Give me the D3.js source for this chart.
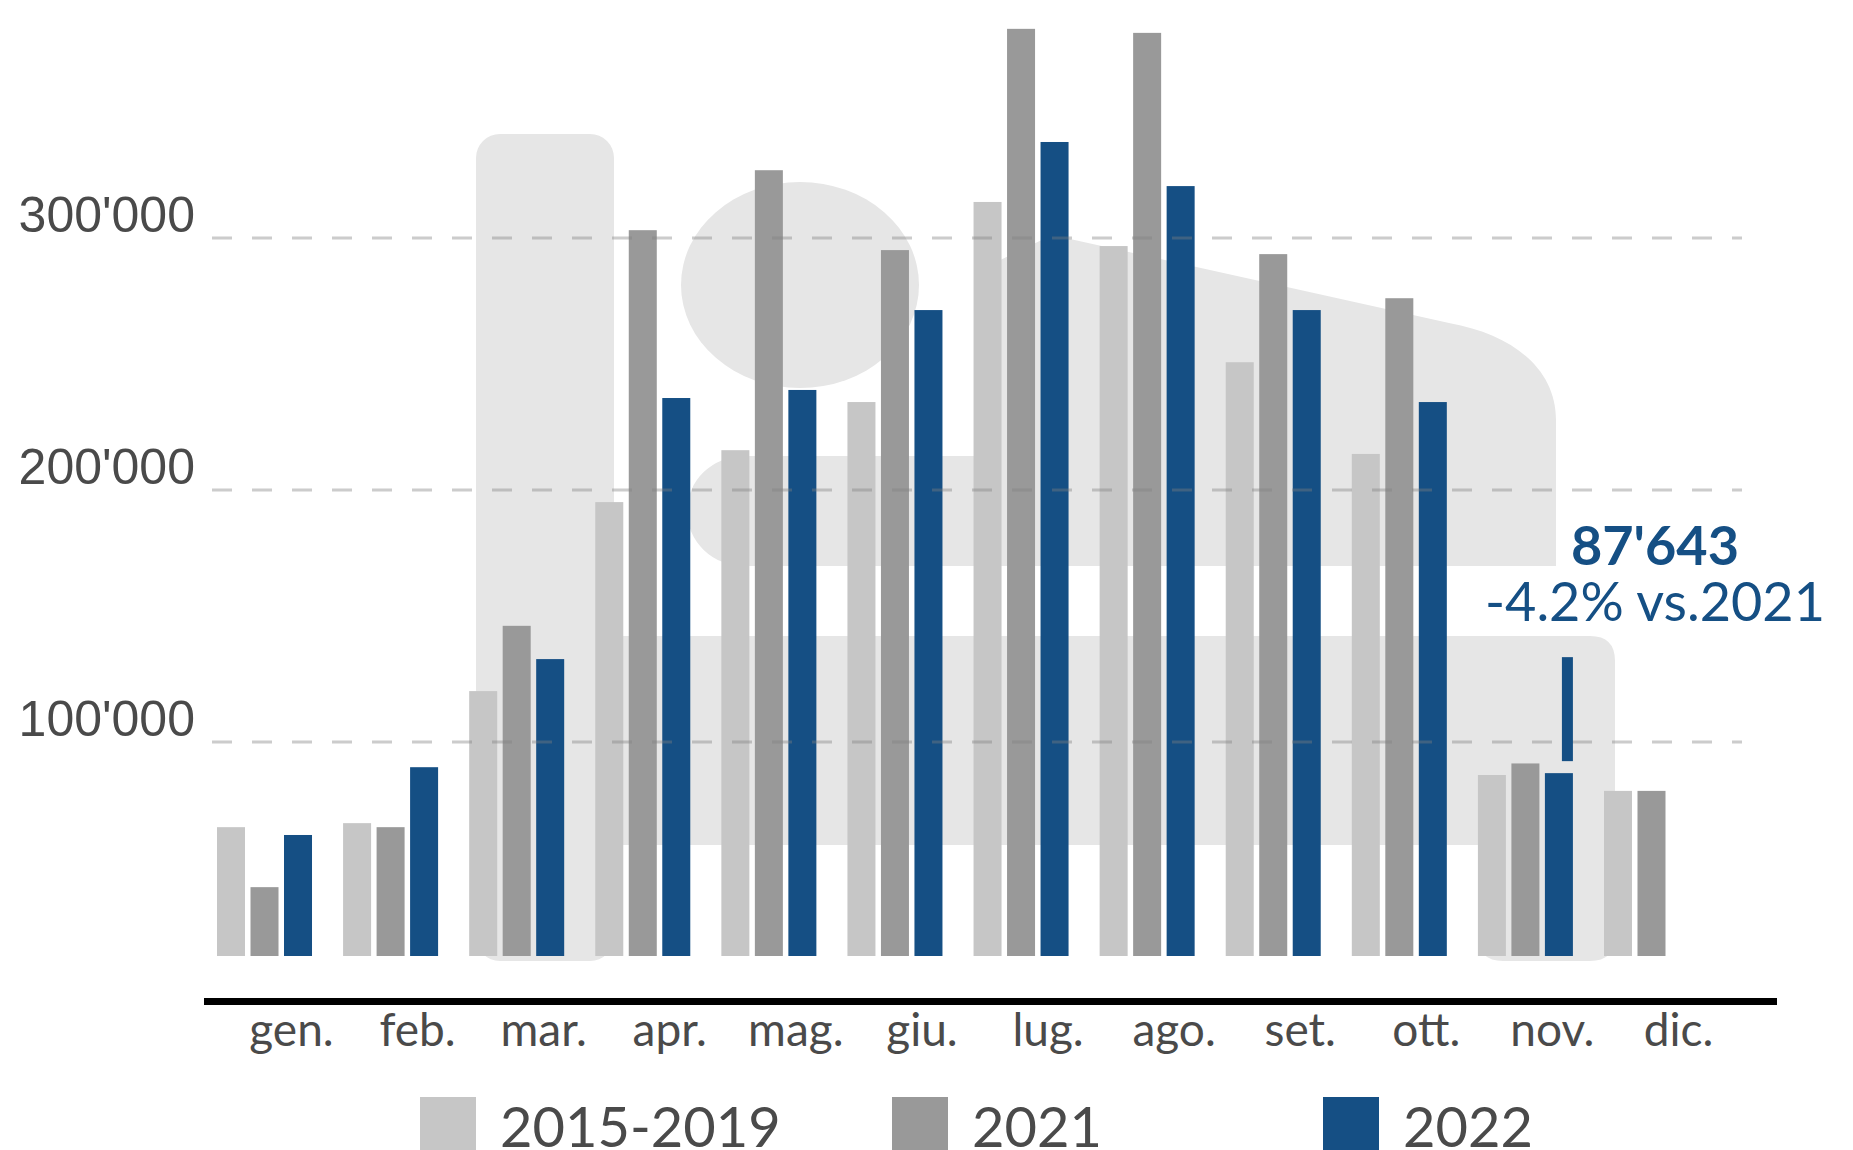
<!DOCTYPE html>
<html>
<head>
<meta charset="utf-8">
<script src="https://cdn.jsdelivr.net/npm/d3@7"></script>
<style>
  body { margin: 0; background: #fff; }
  svg { display: block; }
</style>
</head>
<body>
<div id="chart"></div>
<script>
// --- data ---
var months = ["gen.", "feb.", "mar.", "apr.", "mag.", "giu.", "lug.", "ago.", "set.", "ott.", "nov.", "dic."]
var seriesNames = ["2015-2019", "2021", "2022"]
var avg1519 = [66200, 67800, 120200, 195200, 215800, 234900, 314300, 296800, 250700, 214300, 86900, 80600]
var y2021 = [42400, 66200, 146100, 303100, 326900, 295200, 383000, 381400, 293600, 276100, 91490, 80600]
var y2022 = [63100, 90000, 132900, 236500, 239700, 271400, 338100, 320600, 271400, 234900, 87643, null]
var yTicks = [100000, 200000, 300000]
var colors = ["#c6c6c6", "#999999", "#154f84"]
var noteMonth = "nov."

var W = 1853, H = 1150
var barBase = 956        // bars are cut off above the axis line
var textCol = "#4a4a4a"
var shapeCol = "#e6e6e6"

var ch = d3.formatLocale({decimal: ".", thousands: "'", grouping: [3], currency: ["", ""], minus: "-"})
var fmtNum = ch.format(",d")
var fmtPct = ch.format(".1f")

var svg = d3.select("#chart").append("svg")
    .attr("width", W)
    .attr("height", H)
    .style("background-color", "#fff")

var x = d3.scaleBand()
    .domain(months)
    .range([217, 1699])
    .paddingInner(0.2465)
    .paddingOuter(0)
var xSub = d3.scaleBand()
    .domain(seriesNames)
    .range([0, x.bandwidth()])
    .paddingInner(0.164)
var y = d3.scaleLinear()
    .domain([0, 300000])
    .range([994, 238])

// decorative background shapes
var deco = svg.append("g")
deco.append("rect")
    .attr("x", 476).attr("y", 134)
    .attr("width", 138).attr("height", 827)
    .attr("rx", 24)
    .attr("fill", shapeCol)
deco.append("ellipse")
    .attr("cx", 800).attr("cy", 285)
    .attr("rx", 119).attr("ry", 103)
    .attr("fill", shapeCol)
deco.append("path")
    .attr("d", "M744,456 H990 V265 L1052,235 L1449,323 C1515,335 1556,370 1556,420 V566 H744 A57,55 0 0 1 744,456 Z")
    .attr("fill", shapeCol)
deco.append("path")
    .attr("d", "M600,636 H1590 Q1615,636 1615,661 V936 Q1615,961 1590,961 H1503 Q1478,961 1478,936 V845 H600 Z")
    .attr("fill", shapeCol)

// bars
var rows = months.map(function(m, i) {
    return {month: m, values: [avg1519[i], y2021[i], y2022[i]]}
})
var groups = svg.append("g").selectAll("g")
    .data(rows)
    .join("g")
    .attr("transform", function(d) { return "translate(" + x(d.month) + ",0)" })
groups.selectAll("rect")
    .data(function(d) {
        return d.values.map(function(v, j) { return {key: seriesNames[j], value: v, j: j} })
            .filter(function(e) { return e.value != null })
    })
    .join("rect")
    .attr("x", function(d) { return xSub(d.key) })
    .attr("width", xSub.bandwidth())
    .attr("y", function(d) { return y(d.value) })
    .attr("height", function(d) { return barBase - y(d.value) })
    .attr("fill", function(d) { return colors[d.j] })

// dashed gridlines on top of the bars
var grid = svg.append("g")
grid.selectAll("line")
    .data(yTicks)
    .join("line")
    .attr("x1", 212).attr("x2", 1742)
    .attr("y1", function(d) { return y(d) })
    .attr("y2", function(d) { return y(d) })
    .attr("stroke", "#808080")
    .attr("stroke-opacity", 0.4)
    .attr("stroke-width", 3)
    .attr("stroke-dasharray", "20,20")
grid.selectAll("text")
    .data(yTicks)
    .join("text")
    .attr("x", 195)
    .attr("y", function(d) { return y(d) - 6 })
    .attr("text-anchor", "end")
    .attr("font-family", "'Liberation Sans', Arial, sans-serif")
    .attr("font-size", 50)
    .attr("fill", textCol)
    .text(function(d) { return fmtNum(d) })

// x axis line + month labels
svg.append("line")
    .attr("x1", 204).attr("x2", 1777)
    .attr("y1", 1001.5).attr("y2", 1001.5)
    .attr("stroke", "#000")
    .attr("stroke-width", 7)
svg.append("g").selectAll("text")
    .data(months)
    .join("text")
    .attr("x", function(d) { return x(d) + x.bandwidth() / 2 + 27 })
    .attr("y", 1046)
    .attr("text-anchor", "middle")
    .attr("font-family", "Lato, sans-serif")
    .attr("font-size", 46)
    .attr("fill", textCol)
    .text(function(d) { return d })

// annotation for the last 2022 month
var ni = months.indexOf(noteMonth)
var nRight = x(noteMonth) + xSub("2022") + xSub.bandwidth()
var nTop = y(y2022[ni])
svg.append("rect")
    .attr("x", nRight - 11).attr("y", nTop - 116)
    .attr("width", 11).attr("height", 104)
    .attr("fill", colors[2])
var change = (y2022[ni] / y2021[ni] - 1) * 100
svg.append("text")
    .attr("x", 1655).attr("y", 565)
    .attr("text-anchor", "middle")
    .attr("font-family", "Lato, sans-serif")
    .attr("font-weight", "bold")
    .attr("font-size", 54)
    .attr("fill", colors[2])
    .text(fmtNum(y2022[ni]))
svg.append("text")
    .attr("x", 1655).attr("y", 620.5)
    .attr("text-anchor", "middle")
    .attr("font-family", "Lato, sans-serif")
    .attr("font-size", 54)
    .attr("fill", colors[2])
    .text(fmtPct(change) + "% vs.2021")

// legend
var legendX = [420, 892, 1323]
var leg = svg.append("g").selectAll("g")
    .data(seriesNames)
    .join("g")
    .attr("transform", function(d, i) { return "translate(" + legendX[i] + ",1097)" })
leg.append("rect")
    .attr("width", 56).attr("height", 56)
    .attr("fill", function(d, i) { return colors[i] })
leg.append("text")
    .attr("x", 80).attr("y", 50)
    .attr("font-family", "Lato, sans-serif")
    .attr("font-size", 56)
    .attr("fill", textCol)
    .text(function(d) { return d })
</script>
</body>
</html>
